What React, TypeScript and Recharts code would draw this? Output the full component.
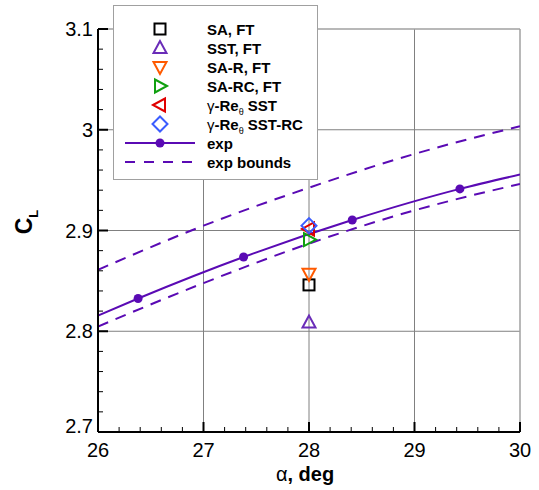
import React from 'react';
import { ComposedChart, Line, Scatter, XAxis, YAxis, ReferenceLine } from 'recharts';

// ---- axis ticks ----
const xMajorTicks = [26, 27, 28, 29, 30];
const xAllTicks = [26, 26.2, 26.4, 26.6, 26.8, 27, 27.2, 27.4, 27.6, 27.8, 28, 28.2, 28.4, 28.6, 28.8, 29, 29.2, 29.4, 29.6, 29.8, 30];
const yMajorTicks = [2.7, 2.8, 2.9, 3, 3.1];
const yAllTicks = [2.7, 2.72, 2.74, 2.76, 2.78, 2.8, 2.82, 2.84, 2.86, 2.88, 2.9, 2.92, 2.94, 2.96, 2.98, 3, 3.02, 3.04, 3.06, 3.08, 3.1];

// ---- experimental data ----
const expAlpha = [26.38, 27.38, 28.41, 29.43];
const expCL = [2.8325, 2.8737, 2.9104, 2.9413];

const fitAlpha = [26, 26.38, 27.38, 28.41, 29.43, 30];
const fitCL = [2.8156, 2.8325, 2.8737, 2.9104, 2.9413, 2.9555];

const boundAlpha = [26, 27, 28, 29, 30];
const upperCL = [2.861, 2.9048, 2.9425, 2.976, 3.0035];
const lowerCL = [2.8047, 2.8478, 2.887, 2.92, 2.9462];

// ---- CFD results ----
const cfdNames = ['SA, FT', 'SST, FT', 'SA-R, FT', 'SA-RC, FT', 'γ-Reθ SST', 'γ-Reθ SST-RC'];
const cfdAlpha = [28, 28, 28, 28, 28, 28];
const cfdCL = [2.846, 2.8087, 2.857, 2.891, 2.9015, 2.9048];
const cfdKinds = ['square', 'up', 'down', 'right', 'left', 'diamond'];
const cfdColors = ['#000000', '#6a2cb8', '#ff5a00', '#10a010', '#e00000', '#3a5cff'];

const PURPLE = '#5a0ab4';
const FONT = '"Liberation Sans", Arial, Helvetica, sans-serif';

const toPts = (xs: number[], ys: number[]) => xs.map((x, i) => ({ x, y: ys[i] }));
const expData = toPts(expAlpha, expCL);
const fitData = toPts(fitAlpha, fitCL);
const upperData = toPts(boundAlpha, upperCL);
const lowerData = toPts(boundAlpha, lowerCL);

const Marker = ({ cx, cy, kind, color }: { cx: number; cy: number; kind: string; color: string }) => {
  const common = { fill: 'none', stroke: color, strokeWidth: 2 } as any;
  switch (kind) {
    case 'square':
      return <rect x={cx - 5.5} y={cy - 5.5} width={11} height={11} {...common} />;
    case 'up':
      return <polygon points={`${cx},${cy - 7} ${cx - 6.5},${cy + 5} ${cx + 6.5},${cy + 5}`} {...common} />;
    case 'down':
      return <polygon points={`${cx},${cy + 7} ${cx - 6.5},${cy - 5} ${cx + 6.5},${cy - 5}`} {...common} />;
    case 'right':
      return <polygon points={`${cx + 7},${cy} ${cx - 5},${cy - 6.5} ${cx - 5},${cy + 6.5}`} {...common} />;
    case 'left':
      return <polygon points={`${cx - 7},${cy} ${cx + 5},${cy - 6.5} ${cx + 5},${cy + 6.5}`} {...common} />;
    case 'diamond':
      return <polygon points={`${cx},${cy - 7.5} ${cx + 7.5},${cy} ${cx},${cy + 7.5} ${cx - 7.5},${cy}`} {...common} />;
    default:
      return null;
  }
};

const isMajor = (v: number, majors: number[]) => majors.some((m) => Math.abs(m - v) < 1e-6);

const XTick = (props: any) => {
  const { x, y, payload } = props;
  const v = payload.value;
  const major = isMajor(v, xMajorTicks);
  return (
    <g>
      <line x1={x} x2={x} y1={y} y2={y - (major ? 10 : 5)} stroke="#000" strokeWidth={major ? 2 : 1} />
      {major && (
        <text x={x} y={y + 25} textAnchor="middle" fontSize={20} fontFamily={FONT} fill="#000">
          {v}
        </text>
      )}
    </g>
  );
};

const YTick = (props: any) => {
  const { x, y, payload } = props;
  const v = payload.value;
  const major = isMajor(v, yMajorTicks);
  const dy = Math.abs(v - 2.7) < 1e-6 ? -6 : 0;
  return (
    <g>
      <line x1={x} x2={x + (major ? 10 : 5)} y1={y} y2={y} stroke="#000" strokeWidth={major ? 2 : 1} />
      {major && (
        <text x={x - 5} y={y + 7 + dy} textAnchor="end" fontSize={20} fontFamily={FONT} fill="#000">
          {String(v)}
        </text>
      )}
    </g>
  );
};

const legendRows = [0, 1, 2, 3, 4, 5];

const LegendLabel = ({ name, x, y }: { name: string; x: number; y: number }) => {
  if (name.startsWith('γ-Reθ')) {
    const rest = name.slice('γ-Reθ'.length);
    return (
      <text x={x} y={y} fontSize={15} fontFamily={FONT} fill="#000">
        <tspan fontWeight="normal">γ</tspan>
        <tspan fontWeight="bold">-Re</tspan>
        <tspan fontSize={9} dy={4}>θ</tspan>
        <tspan fontWeight="bold" dy={-4}>{rest}</tspan>
      </text>
    );
  }
  return (
    <text x={x} y={y} fontSize={15} fontWeight="bold" fontFamily={FONT} fill="#000">
      {name}
    </text>
  );
};

export default function App() {
  return (
    <div style={{ position: 'absolute', left: 0, top: 0, width: 539, height: 490, background: '#fff' }}>
      <ComposedChart width={539} height={490} margin={{ top: 29, right: 19, left: 38, bottom: 0 }}>
        <XAxis
          dataKey="x"
          type="number"
          domain={[26, 30]}
          ticks={xAllTicks}
          interval={0}
          tickSize={0}
          tickMargin={0}
          tickLine={false}
          tick={<XTick />}
          axisLine={{ stroke: '#000', strokeWidth: 2 }}
          height={58}
          allowDataOverflow
        />
        <YAxis
          dataKey="y"
          type="number"
          domain={[2.7, 3.1]}
          ticks={yAllTicks}
          interval={0}
          tickSize={0}
          tickMargin={0}
          tickLine={false}
          tick={<YTick />}
          axisLine={{ stroke: '#000', strokeWidth: 2 }}
          width={60}
          allowDataOverflow
        />
        {[27, 28, 29].map((v) => (
          <ReferenceLine key={'gx' + v} x={v} stroke="#808080" strokeWidth={1} />
        ))}
        {[2.8, 2.9, 3].map((v) => (
          <ReferenceLine key={'gy' + v} y={v} stroke="#808080" strokeWidth={1} />
        ))}
        <ReferenceLine x={30} stroke="#a0a0a0" strokeWidth={1.5} />
        <ReferenceLine y={3.1} stroke="#a0a0a0" strokeWidth={1.5} />
        <Line data={upperData} dataKey="y" type="monotone" stroke={PURPLE} strokeWidth={2} strokeDasharray="11 8" dot={false} isAnimationActive={false} />
        <Line data={lowerData} dataKey="y" type="monotone" stroke={PURPLE} strokeWidth={2} strokeDasharray="11 8" dot={false} isAnimationActive={false} />
        <Line data={fitData} dataKey="y" type="monotone" stroke={PURPLE} strokeWidth={2} dot={false} isAnimationActive={false} />
        <Scatter
          data={expData}
          dataKey="y"
          isAnimationActive={false}
          shape={(p: any) => <circle cx={p.cx} cy={p.cy} r={4.5} fill={PURPLE} />}
        />
        {cfdNames.map((n, i) => (
          <Scatter
            key={n}
            name={n}
            data={[{ x: cfdAlpha[i], y: cfdCL[i] }]}
            dataKey="y"
            isAnimationActive={false}
            shape={(p: any) => <Marker cx={p.cx} cy={p.cy} kind={cfdKinds[i]} color={cfdColors[i]} />}
          />
        ))}
      </ComposedChart>
      <svg width={539} height={490} style={{ position: 'absolute', left: 0, top: 0, pointerEvents: 'none' }}>
        <text x={305} y={481} textAnchor="middle" fontSize={20} fontFamily={FONT} fill="#000">
          <tspan>α</tspan>
          <tspan fontWeight="bold">, deg</tspan>
        </text>
        <text transform="translate(32,222) rotate(-90)" textAnchor="middle" fontSize={23} fontWeight="bold" fontFamily={FONT} fill="#000">
          C<tspan fontSize={13} dy={6}>L</tspan>
        </text>
        <rect x={113.5} y={5.5} width={204} height={174} fill="#fff" stroke="#a0a0a0" strokeWidth={1} />
        {legendRows.map((i) => (
          <g key={i}>
            <Marker cx={160} cy={29 + i * 19} kind={cfdKinds[i]} color={cfdColors[i]} />
            <LegendLabel name={cfdNames[i]} x={207} y={34.5 + i * 19} />
          </g>
        ))}
        <line x1={125} x2={195} y1={143} y2={143} stroke={PURPLE} strokeWidth={2} />
        <circle cx={160} cy={143} r={4.5} fill={PURPLE} />
        <text x={207} y={148.5} fontSize={15} fontWeight="bold" fontFamily={FONT} fill="#000">exp</text>
        <line x1={125} x2={195} y1={162} y2={162} stroke={PURPLE} strokeWidth={2} strokeDasharray="10 9" />
        <text x={207} y={167.5} fontSize={15} fontWeight="bold" fontFamily={FONT} fill="#000">exp bounds</text>
      </svg>
    </div>
  );
}
